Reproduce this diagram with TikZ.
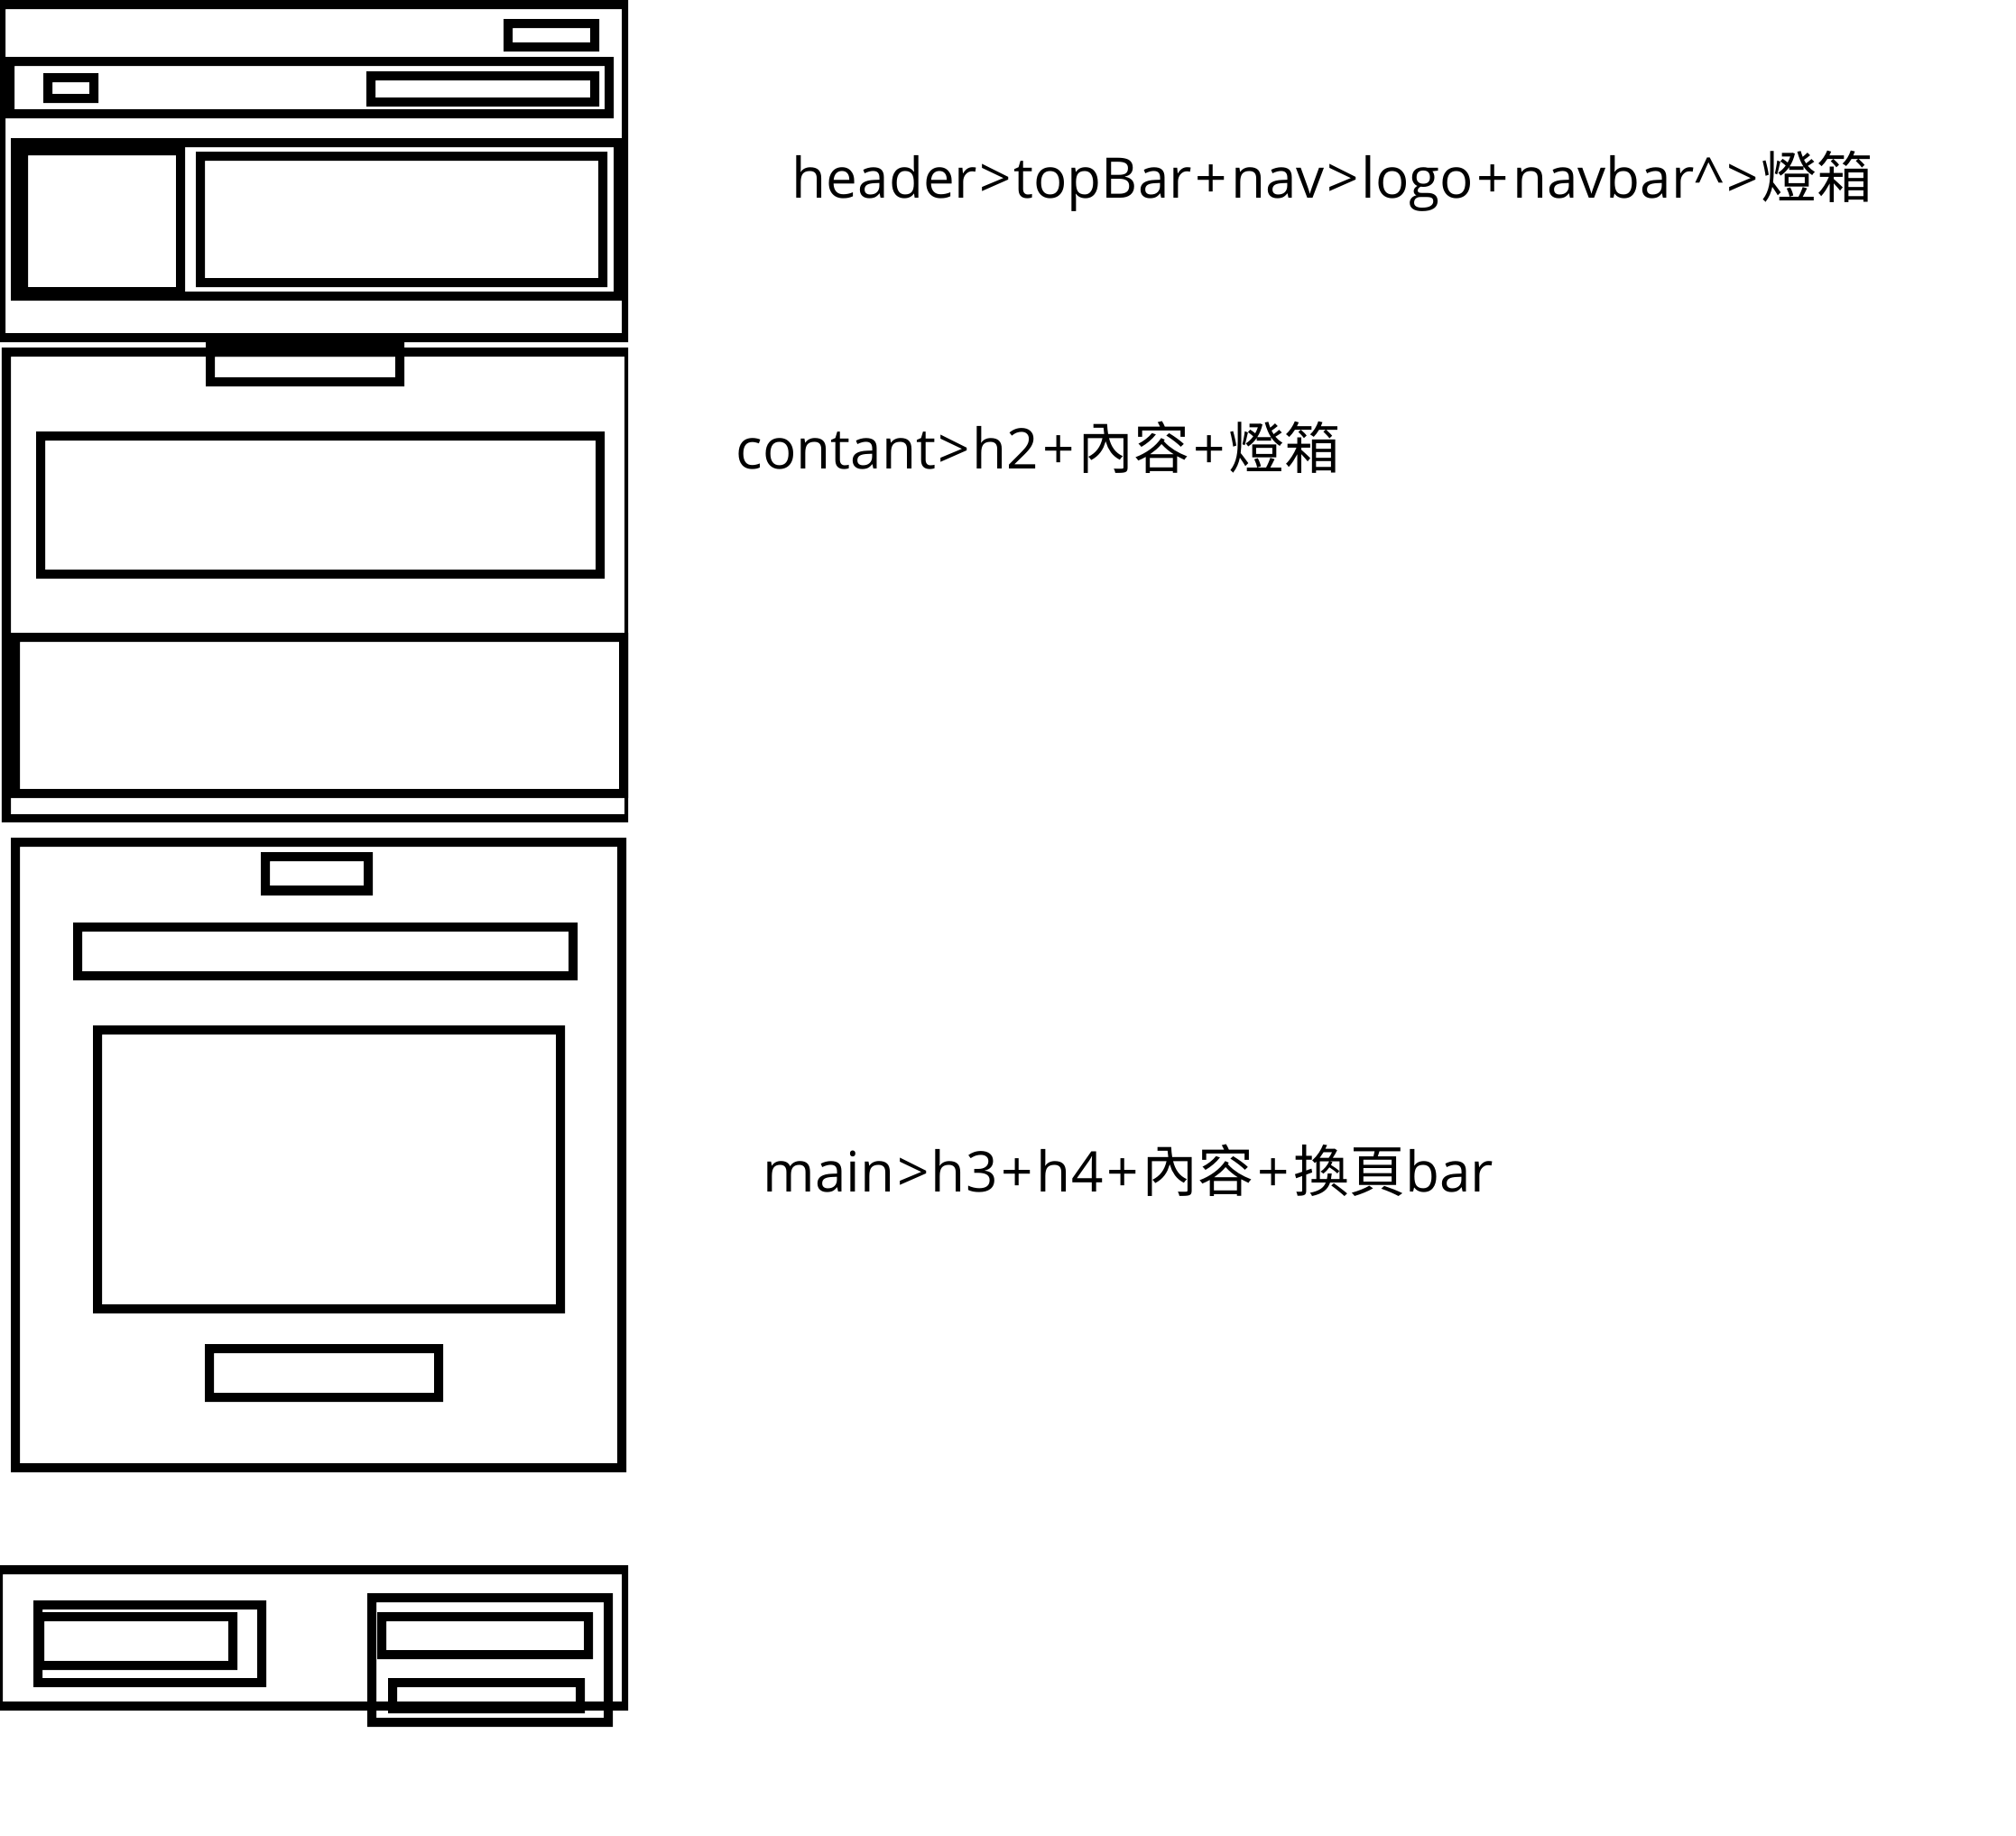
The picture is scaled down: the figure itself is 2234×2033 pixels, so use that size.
\documentclass[tikz,border=0pt]{standalone}
\usepackage{fontspec}
\setmainfont{Open Sans}
\newfontfamily\cjk{Noto Sans CJK TC}
\tikzset{
  frame/.style={fill=black, even odd rule},
  label/.style={anchor=base west, inner sep=0pt, font=\fontsize{18.6}{22}\selectfont},
}
% outer x1 y1 x2 y2, inner x1 y1 x2 y2 (pixel units, y downwards)
\newcommand{\wf}[8]{\fill[frame] (#1,#2) rectangle (#3,#4) (#5,#6) rectangle (#7,#8);}
\newcommand{\gtsym}{\kern0.75pt>\kern0.75pt}
\newcommand{\plsym}{\kern1.2pt+\kern1.2pt}
\begin{document}
\begin{tikzpicture}[x=0.3pt,y=-0.3pt]
\useasboundingbox (0,0) rectangle (2234,2033);
\clip (0,0) rectangle (2234,2033);
% ---- header ----
\wf{-3}{0}{696}{379}{6}{10}{689}{369}       % header
\wf{558}{21}{664}{57}{568}{31}{654}{47}     % topBar button
\wf{6}{63}{680}{131}{16}{73}{670}{121}      % nav
\wf{48}{81}{109}{114}{58}{91}{99}{104}      % logo
\wf{406}{79}{664}{118}{416}{89}{654}{108}   % navbar
\wf{12}{153}{689}{333}{22}{163}{680}{323}   % lightbox container
\wf{21}{162}{205}{328}{31}{172}{195}{318}   % lightbox left
\wf{217}{168}{673}{318}{227}{178}{663}{308} % lightbox right
% ---- contant ----
\wf{2}{385}{696}{911}{12}{395}{692}{902}    % contant
\wf{228}{376}{448}{428}{238}{395}{438}{418} % h2 tab
\wf{40}{478}{670}{641}{50}{488}{660}{631}   % content
\wf{12}{701}{696}{884}{22}{711}{686}{874}   % lightbox
% ---- main ----
\wf{12}{928}{694}{1631}{22}{938}{684}{1621}     % main
\wf{289}{944}{413}{992}{299}{954}{403}{981}     % h3
\wf{81}{1022}{640}{1086}{91}{1032}{630}{1076}   % h4
\wf{103}{1136}{626}{1455}{113}{1146}{616}{1445} % content
\wf{227}{1489}{491}{1553}{237}{1499}{481}{1543} % pager
% ---- footer ----
\wf{-3}{1734}{696}{1895}{3}{1744}{689}{1885}    % footer
\wf{37}{1773}{295}{1869}{47}{1783}{285}{1859}   % A
\wf{39}{1786}{263}{1850}{49}{1796}{253}{1840}   % B
\wf{407}{1765}{679}{1913}{417}{1775}{669}{1903} % C
\wf{418}{1786}{657}{1838}{428}{1796}{647}{1828} % D
\wf{430}{1859}{648}{1898}{440}{1869}{638}{1888} % E
% ---- labels ----
\node[label] (t1) at (877,219) {header\gtsym topBar\plsym nav\gtsym logo\plsym navbar\textasciicircum\gtsym{\cjk 燈箱}};
\node[label] (t2) at (815,519) {contant\gtsym h2\plsym{\cjk 內容}\plsym{\cjk 燈箱}};
\node[label] (t3) at (845,1320) {main\gtsym h3\plsym h4\plsym{\cjk 內容}\plsym{\cjk 換頁}bar};
\end{tikzpicture}
\end{document}
